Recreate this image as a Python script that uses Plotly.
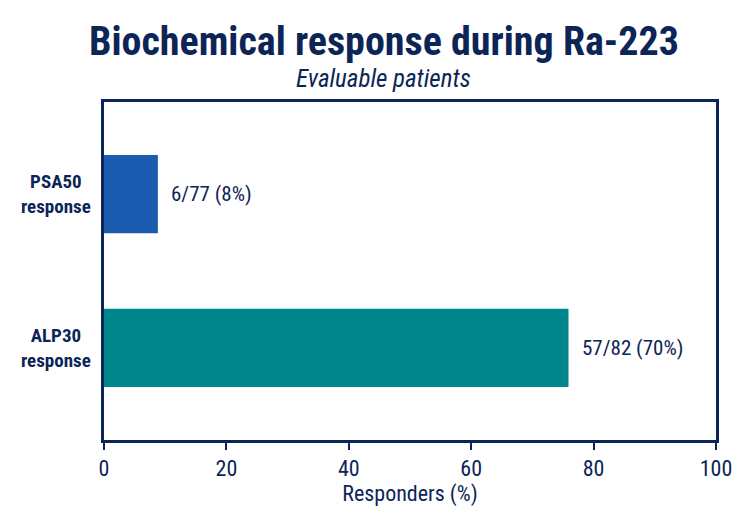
import plotly.graph_objects as go

categories = ["PSA50<br>response", "ALP30<br>response"]
values = [8.8, 75.9]
bar_labels = ["6/77 (8%)", "57/82 (70%)"]
bar_colors = ["#1b5cb0", "#00878e"]
tick_vals = [0, 20, 40, 60, 80, 100]

NAVY = "#0c2557"
FONT = "Liberation Sans Narrow, Roboto Condensed, DejaVu Sans Condensed, Roboto, sans-serif"

fig = go.Figure()
fig.add_trace(go.Bar(
    x=values, y=categories, orientation="h",
    marker=dict(color=bar_colors, line=dict(width=0)),
    width=0.51, hoverinfo="skip",
))

for c, v, lab in zip(categories, values, bar_labels):
    fig.add_annotation(x=v, xref="x", y=c, yref="y", text=lab,
                       showarrow=False, xanchor="left", xshift=11,
                       font=dict(size=21, color=NAVY, family=FONT))
    fig.add_annotation(x=-0.078, xref="paper", y=c, yref="y", text="<b>" + c + "</b>",
                       showarrow=False, align="center", xanchor="center",
                       font=dict(size=19, color=NAVY, family=FONT))

fig.add_annotation(x=0.4575, xref="paper", y=42, yref="paper", yanchor="middle",
                   text="<b>Biochemical response during Ra-223</b>", showarrow=False,
                   font=dict(size=40, color=NAVY, family=FONT))
fig.add_annotation(x=0.4575, xref="paper", y=78, yref="paper", yanchor="middle",
                   text="<i>Evaluable patients</i>", showarrow=False,
                   font=dict(size=25, color=NAVY, family=FONT))

# convert pixel y positions (from top) into paper coordinates
H, T, B = 522, 102, 82
ph = H - T - B
for a in fig.layout.annotations[-2:]:
    a.y = (H - B - a.y) / ph

fig.update_layout(
    width=748, height=522,
    margin=dict(l=104, r=32, t=T, b=B),
    paper_bgcolor="white", plot_bgcolor="white",
    showlegend=False,
    xaxis=dict(
        range=[0, 100], tickvals=tick_vals, showgrid=False, zeroline=False,
        showline=True, linecolor=NAVY, linewidth=2.5, mirror=True,
        ticks="outside", ticklen=7, tickwidth=2, tickcolor=NAVY,
        tickfont=dict(size=22, color=NAVY, family=FONT),
        title=dict(text="Responders (%)", font=dict(size=22, color=NAVY, family=FONT), standoff=6),
    ),
    yaxis=dict(
        range=[1.6, -0.6], showgrid=False, zeroline=False,
        showline=True, linecolor=NAVY, linewidth=2.5, mirror=True,
        showticklabels=False, ticks="",
    ),
)

fig.write_html("out.html")
